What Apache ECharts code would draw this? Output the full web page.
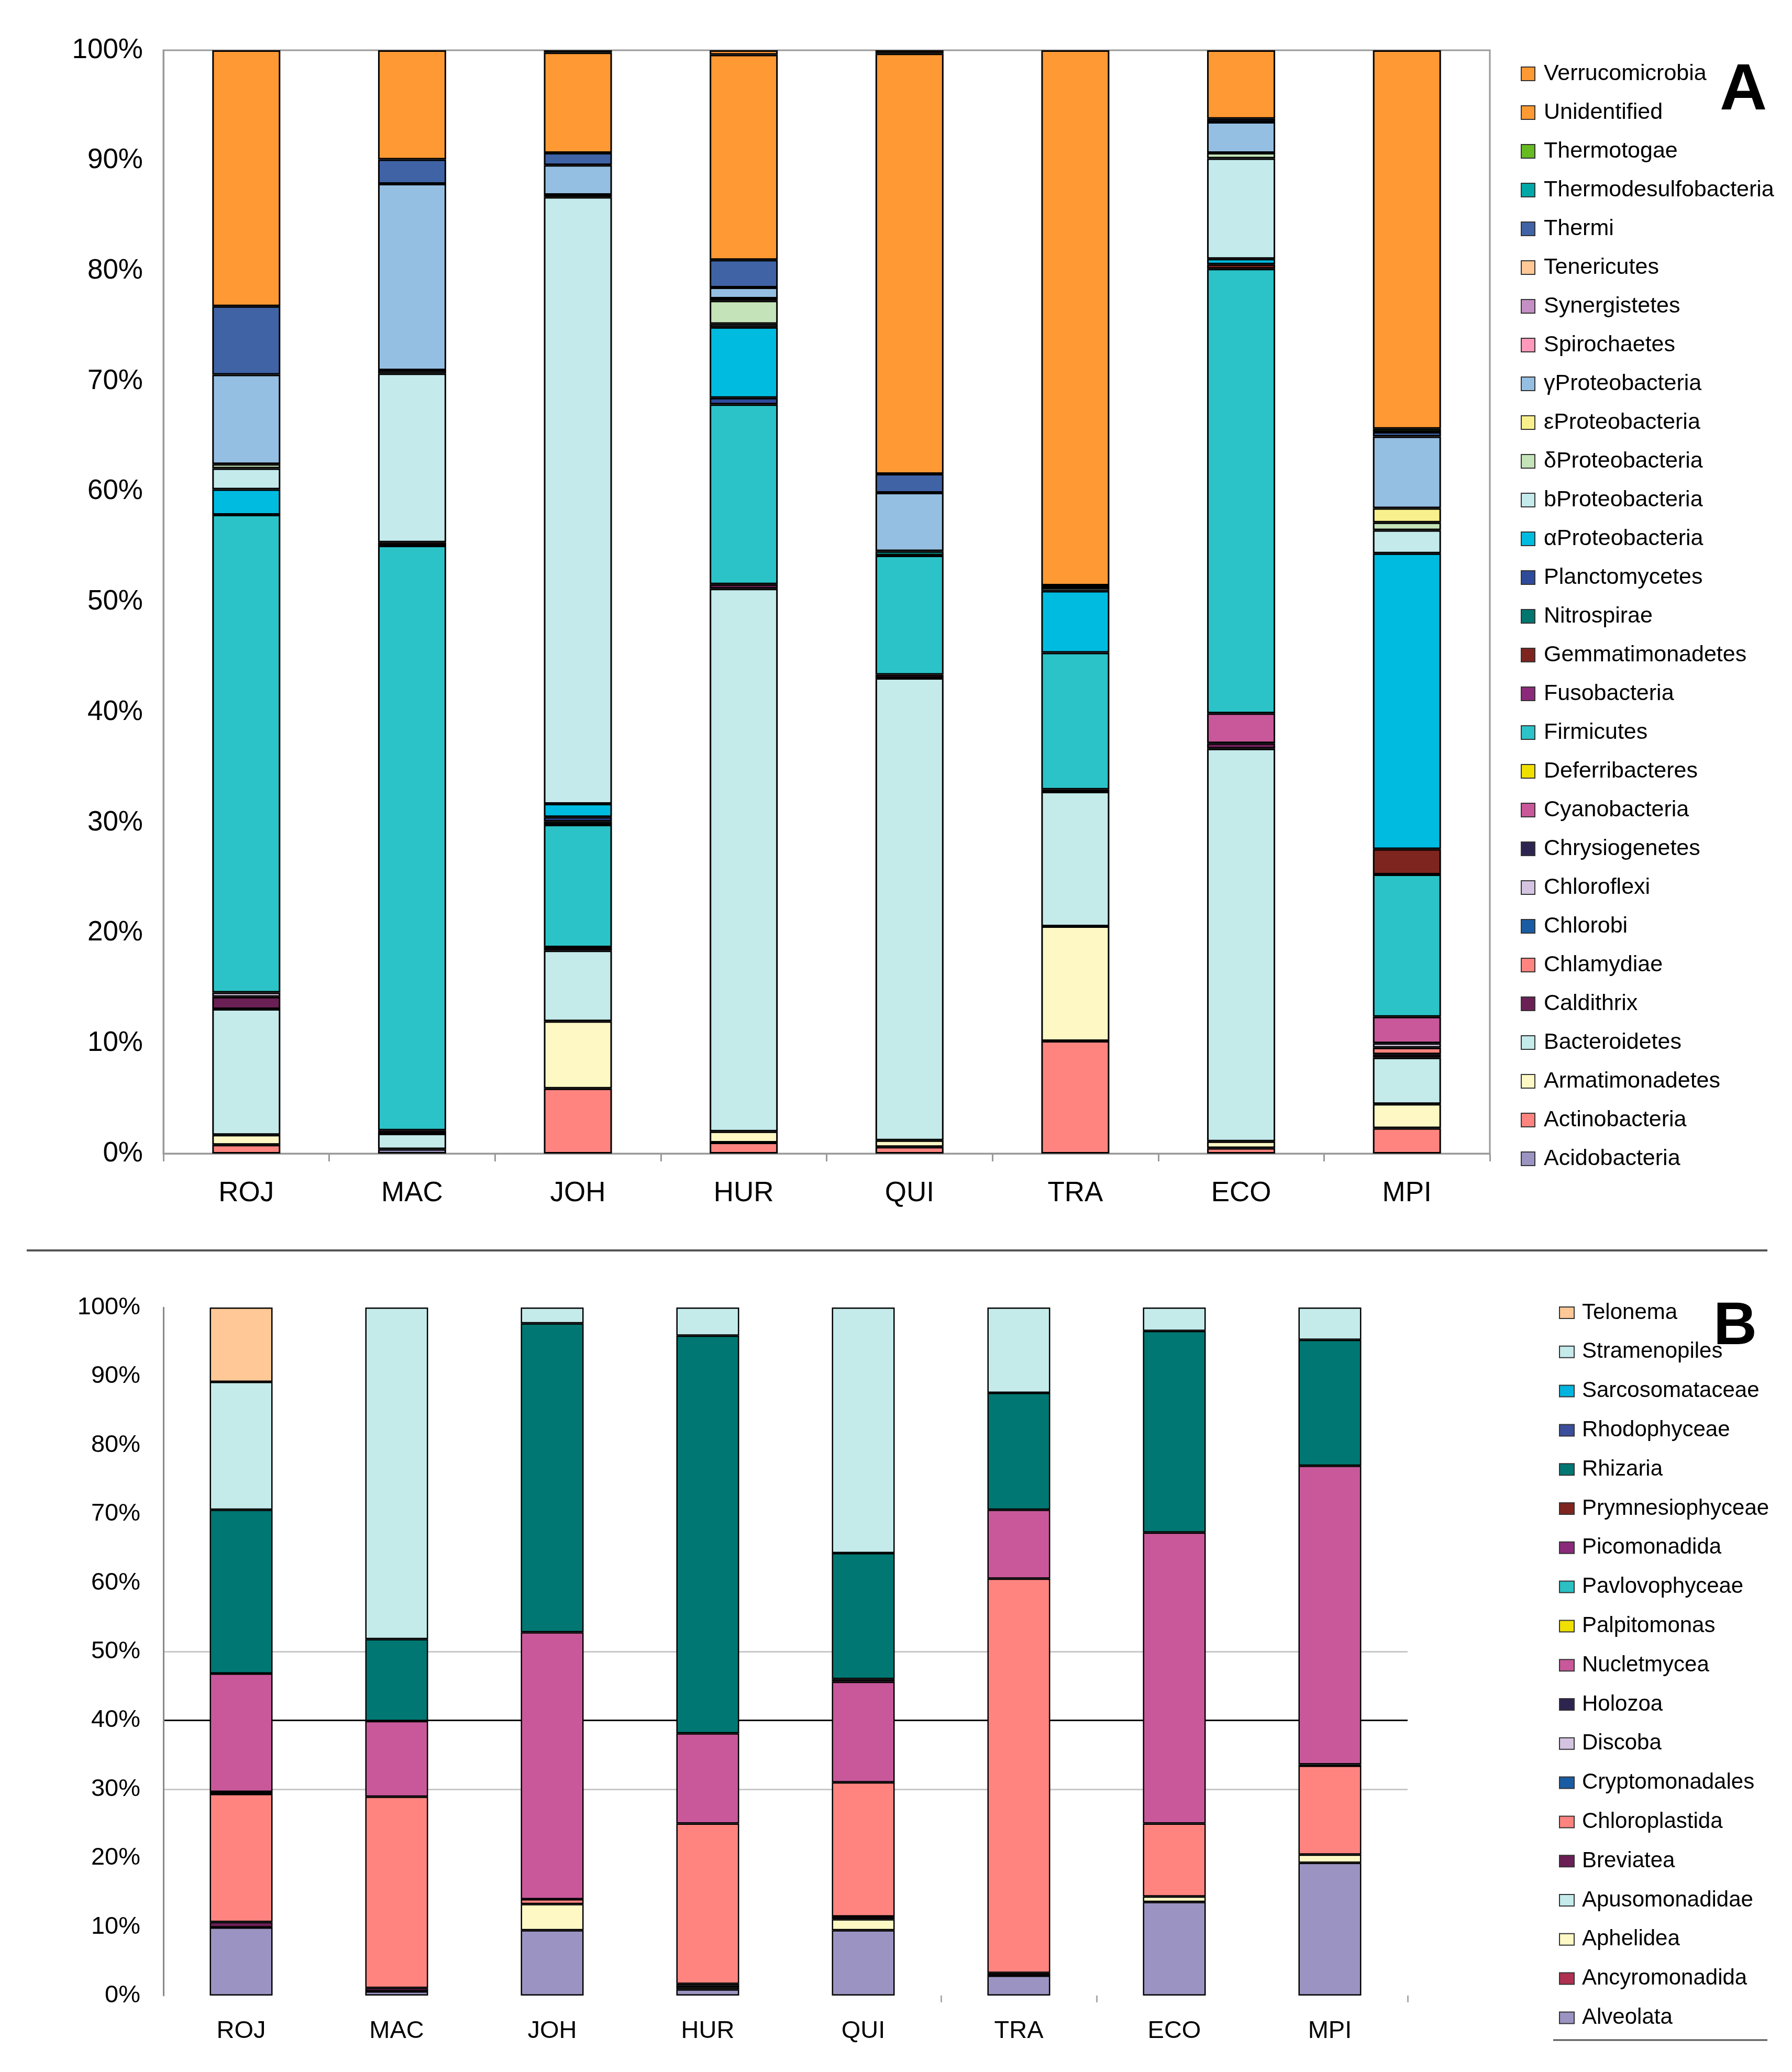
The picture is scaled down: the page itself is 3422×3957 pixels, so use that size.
<!DOCTYPE html>
<html>
<head>
<meta charset="utf-8">
<script src="https://cdn.jsdelivr.net/npm/echarts@6/dist/echarts.min.js"></script>
<style>html,body{margin:0;padding:0;background:#fff;}#chart{width:3422px;height:3957px;}</style>
</head>
<body>
<div id="chart"></div>
<script>
// ---------- DATA ----------
const sites = ['ROJ', 'MAC', 'JOH', 'HUR', 'QUI', 'TRA', 'ECO', 'MPI'];
const yTicksPct = [0, 10, 20, 30, 40, 50, 60, 70, 80, 90, 100];

// Panel A taxa (stack order bottom -> top)
const taxaA = ['Acidobacteria', 'Actinobacteria', 'Armatimonadetes', 'Bacteroidetes', 'Caldithrix',
  'Chlamydiae', 'Chlorobi', 'Chloroflexi', 'Chrysiogenetes', 'Cyanobacteria',
  'Deferribacteres', 'Firmicutes', 'Fusobacteria', 'Gemmatimonadetes', 'Nitrospirae',
  'Planctomycetes', 'αProteobacteria', 'bProteobacteria', 'δProteobacteria', 'εProteobacteria',
  'γProteobacteria', 'Spirochaetes', 'Synergistetes', 'Tenericutes', 'Thermi',
  'Thermodesulfobacteria', 'Thermotogae', 'Unidentified', 'Verrucomicrobia'];

// Panel A values (% per site, same order as taxaA)
const bacROJ = [0, 0.8, 0.9, 11.4, 1.1,  0, 0, 0.4, 0, 0,    0, 43.3, 0, 0, 0,    0, 2.3, 1.9, 0.4, 0,    8.1, 0, 0, 0, 6.2,  0, 0, 23.2, 0];
const bacMAC = [0.4, 0, 0, 1.4, 0.3,  0, 0, 0, 0, 0,    0, 53.0, 0, 0.3, 0,    0, 0, 15.3, 0.3, 0,    16.9, 0, 0, 0, 2.2,  0, 0, 9.9, 0];
const bacJOH = [0, 5.9, 6.1, 6.4, 0.3,  0, 0, 0, 0, 0,    0, 11.1, 0, 0, 0.3,    0.4, 1.2, 55.0, 0.2, 0,    2.7, 0, 0, 0, 1.1,  0, 0, 9.1, 0.2];
const bacHUR = [0, 1.0, 1.0, 49.2, 0.4,  0, 0, 0, 0, 0,    0, 16.3, 0, 0, 0,    0.6, 6.4, 0.3, 2.1, 0.2,    1.0, 0, 0, 0, 2.5,  0, 0, 18.6, 0.4];
const bacQUI = [0, 0.6, 0.6, 41.9, 0.3,  0, 0, 0, 0, 0,    0, 10.8, 0, 0, 0.4,    0, 0, 0, 0, 0,    5.3, 0, 0, 0, 1.7,  0, 0, 38.1, 0.3];
const bacTRA = [0, 10.2, 10.4, 12.2, 0.2,  0, 0, 0, 0, 0,    0, 12.4, 0, 0, 0,    0, 5.6, 0.3, 0, 0,    0.2, 0, 0, 0, 0,  0, 0, 48.5, 0];
const bacECO = [0, 0.5, 0.6, 35.6, 0.5,  0, 0, 0, 0, 2.7,    0, 40.3, 0, 0.4, 0,    0, 0.5, 9.1, 0.5, 0,    2.8, 0, 0, 0, 0.3,  0, 0, 6.2, 0];
const bacMPI = [0, 2.3, 2.2, 4.2, 0.3,  0.6, 0, 0.4, 0, 2.4,    0, 12.9, 0, 2.3, 0,    0, 26.8, 2.1, 0.7, 1.3,    6.5, 0, 0, 0, 0.4,  0, 0.3, 34.3, 0];

// Panel B taxa (stack order bottom -> top)
const taxaB = ['Alveolata', 'Ancyromonadida', 'Aphelidea', 'Apusomonadidae', 'Breviatea',
  'Chloroplastida', 'Cryptomonadales', 'Discoba', 'Holozoa', 'Nucletmycea',
  'Palpitomonas', 'Pavlovophyceae', 'Picomonadida', 'Prymnesiophyceae', 'Rhizaria',
  'Rhodophyceae', 'Sarcosomataceae', 'Stramenopiles', 'Telonema'];

// Panel B values (% per site, same order as taxaB)
const eukROJ = [9.9, 0, 0, 0, 0.8,   18.6, 0, 0, 0.3, 17.2,   0, 0, 0, 0, 23.8,   0, 0, 18.6, 10.8];
const eukMAC = [0.6, 0, 0, 0, 0.5,   27.8, 0, 0, 0, 11.0,   0, 0, 0, 0, 11.9,   0, 0, 48.2, 0];
const eukJOH = [9.5, 0, 3.8, 0, 0,   0.7, 0, 0, 0, 38.8,   0, 0, 0, 0, 44.9,   0, 0, 2.3, 0];
const eukHUR = [0.9, 0, 0.4, 0.4, 0,   23.3, 0, 0, 0, 13.1,   0, 0, 0, 0, 57.8,   0, 0, 4.1, 0];
const eukQUI = [9.5, 0, 1.6, 0, 0.4,   19.5, 0, 0, 0, 14.6,   0, 0, 0.4, 0, 18.3,   0, 0, 35.7, 0];
const eukTRA = [2.9, 0, 0, 0, 0.4,   57.3, 0, 0, 0, 10.0,   0, 0, 0, 0, 17.0,   0, 0, 12.4, 0];
const eukECO = [13.6, 0, 0.8, 0, 0,   10.6, 0, 0, 0, 42.3,   0, 0, 0, 0, 29.3,   0, 0, 3.4, 0];
const eukMPI = [19.3, 0, 1.2, 0, 0,   12.9, 0, 0, 0.2, 43.4,   0, 0, 0, 0, 18.3,   0, 0, 4.7, 0];

// ---------- STYLES ----------
const colorsA = ['#9B94C2', '#FF8480', '#FDF8C4', '#C4EAEA', '#6A2055',
  '#FF8480', '#1A5CA4', '#D4C4E2', '#2E2450', '#C8589A',
  '#F0E000', '#2BC3C8', '#8B2A7A', '#7F2520', '#00766F',
  '#2E4A9A', '#00BBE0', '#C4EAEC', '#C4E3B8', '#F8F08C',
  '#95BFE2', '#FF99BB', '#C48FC4', '#FFC896', '#3F63A5',
  '#00A8A8', '#66BB22', '#FF9933', '#FF9933'];
const colorsB = ['#9B94C2', '#B03050', '#FDF8C4', '#C4EAEA', '#6A2055',
  '#FF8480', '#1A5CA4', '#D4C4E2', '#2E2450', '#C8589A',
  '#F0E000', '#2BC0C4', '#8B2A7A', '#7F2520', '#007772',
  '#3A4E9C', '#00B4E0', '#C4EAEA', '#FFC896'];

const FONT = 'Liberation Sans, Arial, sans-serif';
const bySiteA = [bacROJ, bacMAC, bacJOH, bacHUR, bacQUI, bacTRA, bacECO, bacMPI];
const bySiteB = [eukROJ, eukMAC, eukJOH, eukHUR, eukQUI, eukTRA, eukECO, eukMPI];

function buildSeries(taxa, colors, bySite, idx, bw, border) {
  return taxa.map((name, t) => ({
    name: name, type: 'bar', stack: 'stack' + idx,
    xAxisIndex: idx, yAxisIndex: idx, barWidth: bw,
    data: bySite.map(s => (s[t] ? s[t] : null)),
    itemStyle: { color: colors[t], borderColor: '#000', borderWidth: border },
    emphasis: { disabled: true }
  }));
}

const chart = echarts.init(document.getElementById('chart'), null, { renderer: 'canvas' });
const splitColorsB = yTicksPct.map(v => v === 40 ? '#000' : (v === 30 || v === 50 ? '#c8c8c8' : 'rgba(0,0,0,0)'));

const option = {
  animation: false,
  backgroundColor: '#fff',
  grid: [
    { left: 312, top: 96, width: 2533, height: 2107, show: true, borderColor: '#999', borderWidth: 3, backgroundColor: 'rgba(0,0,0,0)' },
    { left: 312, top: 2497, width: 2376, height: 1314 }
  ],
  xAxis: [
    { type: 'category', gridIndex: 0, data: sites,
      axisLine: { show: true, lineStyle: { color: '#999', width: 3 } },
      axisTick: { show: true, length: 15, lineStyle: { color: '#999', width: 3 } },
      axisLabel: { fontSize: 53, fontFamily: FONT, color: '#000', margin: 50 } },
    { type: 'category', gridIndex: 1, data: sites,
      axisLine: { show: false },
      axisTick: { show: true, length: 13, interval: function (i) { return i === 5 || i === 6; }, lineStyle: { color: '#aaa', width: 3 } },
      axisLabel: { fontSize: 47, fontFamily: FONT, color: '#000', margin: 45 } }
  ],
  yAxis: [
    { type: 'value', gridIndex: 0, min: 0, max: 100, interval: 10,
      axisLine: { show: true, lineStyle: { color: '#999', width: 3 } },
      axisTick: { show: false }, splitLine: { show: false },
      axisLabel: { formatter: '{value}%', fontSize: 53, fontFamily: FONT, color: '#000', margin: 39 } },
    { type: 'value', gridIndex: 1, min: 0, max: 100, interval: 10,
      axisLine: { show: true, lineStyle: { color: '#888', width: 3 } },
      axisTick: { show: false },
      splitLine: { show: true, lineStyle: { color: splitColorsB, width: 3 } },
      axisLabel: { formatter: '{value}%', fontSize: 47, fontFamily: FONT, color: '#000', margin: 44 } }
  ],
  legend: [
    { data: taxaA.slice().reverse(), orient: 'vertical', left: 2904, top: 119, padding: 0,
      icon: 'rect', itemWidth: 26, itemHeight: 26, itemGap: 30, selectedMode: false,
      itemStyle: { borderColor: '#333', borderWidth: 2 },
      textStyle: { fontSize: 43, fontFamily: FONT, color: '#000', lineHeight: 44, padding: [0, 0, 0, 12] } },
    { data: taxaB.slice().reverse(), orient: 'vertical', left: 2977, top: 2485, padding: 0,
      icon: 'rect', itemWidth: 28, itemHeight: 22, itemGap: 30.8, selectedMode: false,
      itemStyle: { borderColor: '#333', borderWidth: 2 },
      textStyle: { fontSize: 42, fontFamily: FONT, color: '#000', lineHeight: 44, padding: [0, 0, 0, 10] } }
  ],
  graphic: [
    { type: 'line', shape: { x1: 51, y1: 2388, x2: 3375, y2: 2388 }, style: { stroke: '#555', lineWidth: 4 } },
    { type: 'line', shape: { x1: 2966, y1: 3896, x2: 3375, y2: 3896 }, style: { stroke: '#555', lineWidth: 3 } },
    { type: 'text', left: 3284, top: 112, style: { text: 'A', fontSize: 125, fontWeight: 'bold', fontFamily: FONT, fill: '#000' } },
    { type: 'text', left: 3272, top: 2478, style: { text: 'B', fontSize: 115, fontWeight: 'bold', fontFamily: FONT, fill: '#000' } }
  ],
  series: buildSeries(taxaA, colorsA, bySiteA, 0, 130, 3).concat(buildSeries(taxaB, colorsB, bySiteB, 1, 120, 2.5))
};
chart.setOption(option);
</script>
</body>
</html>
